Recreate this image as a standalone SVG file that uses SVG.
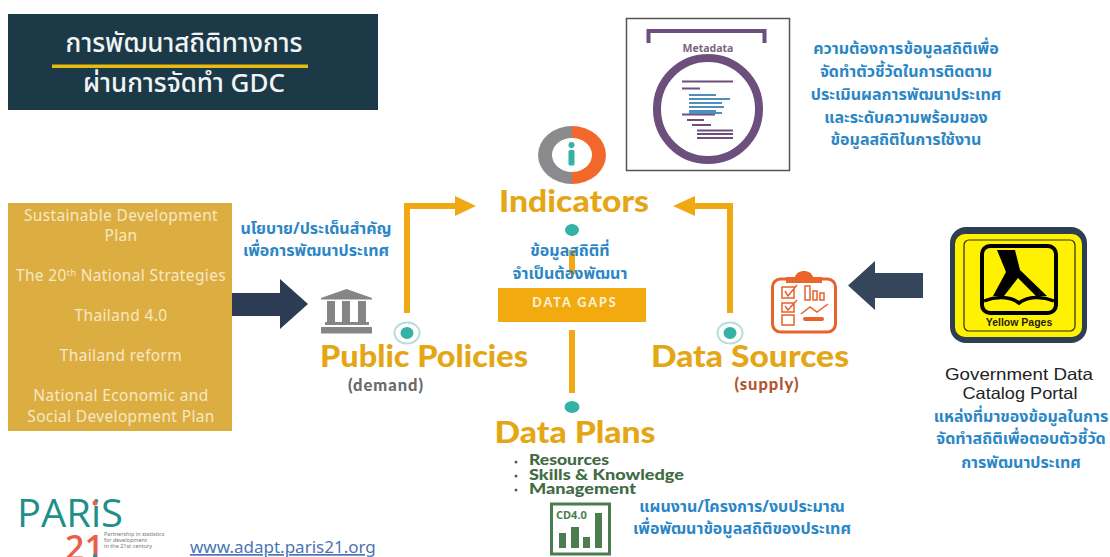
<svg xmlns="http://www.w3.org/2000/svg" width="1110" height="557" viewBox="0 0 1110 557">
<style>
text{font-family:"Noto Sans","Noto Sans Thai","Open Sans","DejaVu Sans",sans-serif}
.m{text-anchor:middle}
.b{fill:#2b86c5;font-size:16px;font-weight:700;text-anchor:middle}
.g{fill:#f6e8c6;font-size:15.500px;text-anchor:middle;letter-spacing:.35px}
.h{fill:#e5a616;font-family:"Lato","Open Sans",sans-serif;font-size:30px;font-weight:900;text-anchor:middle}
.w{fill:#3f6b45;font-family:"Lato",sans-serif;font-size:15.500px;font-weight:900}
.s{font-family:Lato,sans-serif;font-size:16.500px;font-weight:900;letter-spacing:1px;text-anchor:middle}
.l{font-family:"Liberation Sans",sans-serif;font-size:16.500px;fill:#222;text-anchor:middle}
.c{fill:none;stroke:#f0a912;stroke-width:6}
.n1{fill:#fff;stroke:#b6dedb;stroke-width:2}
.n2{fill:#35b1a6}
.p{stroke:#6c4f7c;stroke-width:2;fill:none}
.q{stroke:#4f8fbd;stroke-width:1.800;fill:none}
.o{fill:none;stroke:#e8622a;stroke-width:1.500}
</style>
<rect width="1110" height="557" fill="#fff"/>
<g id="title">
<rect x="8" y="14" width="370" height="96" fill="#1c3947"/>
<rect x="52" y="64.500" width="256" height="3.500" fill="#e9bb11"/>
<text class="m" x="184" y="52" fill="#f1f4f4" font-size="26" font-weight="500">การพัฒนาสถิติทางการ</text>
<text class="m" x="184" y="92" fill="#f1f4f4" font-size="26" font-weight="500">ผ่านการจัดทำ GDC</text>
</g>
<g id="metadata">
<rect x="626.500" y="18.500" width="163" height="152" fill="#fff" stroke="#555" stroke-width="1.500"/>
<path d="M648.500 43V31H764.500V43" fill="none" stroke="#6c4f7c" stroke-width="4"/>
<text class="m" x="708" y="52" fill="#76687f" font-size="10.500" font-weight="700">Metadata</text>
<circle cx="708" cy="109" r="51" fill="#fff" stroke="#6c4f7c" stroke-width="8"/>
<path class="p" d="M682 81.500H733M682 88.500H700M682 114.500H715M687 120H704M692 125H711M697 130.500H733M697 134H733M697 138H733"/>
<path class="q" d="M689 95H716M689 99H730M689 103H722M689 107H724M689 111H716M689 113H722"/>
</g>
<g id="metadata-note">
<text class="b" x="906" y="54">ความต้องการข้อมูลสถิติเพื่อ</text>
<text class="b" x="906" y="77">จัดทำตัวชี้วัดในการติดตาม</text>
<text class="b" x="906" y="100">ประเมินผลการพัฒนาประเทศ</text>
<text class="b" x="906" y="123">และระดับความพร้อมของ</text>
<text class="b" x="906" y="145">ข้อมูลสถิติในการใช้งาน</text>
</g>
<g id="plans-box">
<rect x="8" y="203" width="224" height="228" fill="#dcae41"/>
<text class="g" x="121" y="221">Sustainable Development</text>
<text class="g" x="121" y="241">Plan</text>
<text class="g" x="121" y="281">The 20<tspan dy="-5" font-size="9">th</tspan><tspan dy="5"> National Strategies</tspan></text>
<text class="g" x="121" y="321">Thailand 4.0</text>
<text class="g" x="121" y="361">Thailand reform</text>
<text class="g" x="121" y="401">National Economic and</text>
<text class="g" x="121" y="422">Social Development Plan</text>
</g>
<g id="connectors">
<path d="M232 293H280V279L308 304L280 329V316H232Z" fill="#2b3c54"/>
<path d="M923 273H875V261L848 285.500L875 310V298H923Z" fill="#35455c"/>
<path class="c" d="M407 313V206H456"/>
<path d="M455 196L476 206L455 216Z" fill="#f0a912"/>
<path class="c" d="M730 313V206H695"/>
<path d="M695 196L673 206L695 216Z" fill="#f0a912"/>
<path class="c" d="M572 250V274M572 330V393"/>
</g>
<g id="indicators">
<path d="M572 126A34 29 0 0 0 572 184V172A20 17 0 0 1 572 138Z" fill="#8b8b8e"/>
<path d="M572 126A34 29 0 0 1 572 184V172A20 17 0 0 0 572 138Z" fill="#f1682a"/>
<circle cx="571.500" cy="145" r="3" fill="#35b1a6"/>
<rect x="568.500" y="150" width="6" height="15.500" rx="1.500" fill="#35b1a6"/>
<text class="h" x="574" y="212" textLength="150" lengthAdjust="spacingAndGlyphs">Indicators</text>
<ellipse class="n2" cx="572" cy="230" rx="7" ry="6"/>
</g>
<g id="gap-note">
<text class="b" x="570" y="256">ข้อมูลสถิติที่</text>
<text class="b" x="570" y="279">จำเป็นต้องพัฒนา</text>
</g>
<g id="data-gaps">
<rect x="498" y="288" width="148" height="34" fill="#f2aa0e"/>
<text class="m" x="575" y="307" fill="#fbf0d4" font-size="12.500" font-weight="900" letter-spacing="2" style="font-family:Lato,sans-serif">DATA GAPS</text>
</g>
<g id="policy-note">
<text class="b" x="316" y="234">นโยบาย/ประเด็นสำคัญ</text>
<text class="b" x="316" y="256">เพื่อการพัฒนาประเทศ</text>
</g>
<g id="bank-icon" fill="#858585">
<path d="M321 298L346.500 289L372 298V299.500H321Z"/>
<rect x="327" y="301" width="8" height="21"/><rect x="342" y="301" width="8" height="21"/><rect x="358" y="301" width="8" height="21"/>
<rect x="325" y="322" width="44" height="3"/><rect x="321" y="327" width="51" height="6.500"/>
</g>
<g id="public-policies">
<ellipse class="n1" cx="407" cy="333" rx="12.500" ry="10.500"/>
<ellipse class="n2" cx="407" cy="333" rx="6.500" ry="6"/>
<text class="h" x="424" y="367" textLength="208" lengthAdjust="spacingAndGlyphs">Public Policies</text>
<text class="s" x="386" y="391" fill="#6a6a6a">(demand)</text>
</g>
<g id="data-sources">
<ellipse class="n1" cx="730" cy="333" rx="12.500" ry="10.500"/>
<ellipse class="n2" cx="730" cy="333" rx="6.500" ry="6"/>
<text class="h" x="750" y="367" textLength="198" lengthAdjust="spacingAndGlyphs">Data Sources</text>
<text class="s" x="767" y="390" fill="#b0562f">(supply)</text>
</g>
<g id="clipboard-icon">
<rect x="772.500" y="279" width="63" height="53" rx="8" fill="#fff" stroke="#e8622a" stroke-width="3"/>
<path d="M786 283V277H795C797 269 811 269 813 277H822V283Z" fill="#ea6527"/>
<path class="o" d="M782 287H794V298H782ZM782 303H794V312H782ZM782 315H794V325H782ZM785 291L788 296L797 285M785 306L788 310L797 300M805 286H810V300H805ZM813 291H817V300H813ZM820 293H824V300H820ZM801 314L810 307L817 312L828 304"/>
<rect x="803" y="317" width="21" height="4" rx="2" fill="#e8622a"/>
</g>
<g id="yellow-pages">
<rect x="950" y="227" width="137" height="116" rx="16" fill="#2f3e52"/>
<rect x="955" y="234" width="127" height="103" rx="10" fill="#fff200"/>
<rect x="964" y="240" width="111" height="91" rx="5" fill="none" stroke="#2b2b1a" stroke-width="1.200"/>
<rect x="982" y="246" width="74" height="67" rx="8" fill="#fff200" stroke="#000" stroke-width="4"/>
<path d="M997 250H1015L1020 270L1047 296H1036L1018 278L1004 296H993L1006 272Z" fill="#000"/>
<path d="M984 301C996 296 1010 296 1019 303C1028 296 1042 296 1054 301" fill="none" stroke="#000" stroke-width="3.500"/>
<text class="m" x="1019" y="326" fill="#1c1c10" font-size="10.500" font-weight="700" style="font-family:'Liberation Sans',sans-serif">Yellow Pages</text>
</g>
<g id="portal-label">
<text class="l" x="1019" y="380" textLength="148" lengthAdjust="spacingAndGlyphs">Government Data</text>
<text class="l" x="1020" y="399" textLength="115" lengthAdjust="spacingAndGlyphs">Catalog Portal</text>
<text class="b" x="1021" y="422">แหล่งที่มาของข้อมูลในการ</text>
<text class="b" x="1021" y="444">จัดทำสถิติเพื่อตอบตัวชี้วัด</text>
<text class="b" x="1021" y="468">การพัฒนาประเทศ</text>
</g>
<g id="data-plans">
<ellipse class="n2" cx="572" cy="407" rx="7.500" ry="6"/>
<text class="h" x="575" y="443" textLength="161" lengthAdjust="spacingAndGlyphs">Data Plans</text>
<circle cx="516" cy="462" r="1.500" fill="#3f6b45"/><circle cx="516" cy="476" r="1.500" fill="#3f6b45"/><circle cx="516" cy="490" r="1.500" fill="#3f6b45"/>
<text class="w" x="529" y="465" textLength="80" lengthAdjust="spacingAndGlyphs">Resources</text>
<text class="w" x="529" y="479.500" textLength="155" lengthAdjust="spacingAndGlyphs">Skills &amp; Knowledge</text>
<text class="w" x="529" y="494" textLength="107" lengthAdjust="spacingAndGlyphs">Management</text>
</g>
<g id="cd-icon">
<rect x="551.500" y="504" width="58" height="50" fill="#fff" stroke="#4b7d51" stroke-width="3"/>
<text x="556" y="519" fill="#4b7d51" font-size="11" font-weight="700">CD4.0</text>
<rect x="559" y="533" width="7" height="15" fill="#4b7d51"/><rect x="571" y="527" width="8" height="21" fill="#4b7d51"/><rect x="583" y="537" width="7" height="11" fill="#4b7d51"/><rect x="595" y="513" width="7" height="35" fill="#4b7d51"/>
</g>
<g id="plans-note">
<text class="b" x="742" y="512">แผนงาน/โครงการ/งบประมาณ</text>
<text class="b" x="742" y="534">เพื่อพัฒนาข้อมูลสถิติของประเทศ</text>
</g>
<g id="paris21">
<text x="17" y="527" fill="#1f8f8b" font-size="38" textLength="106" lengthAdjust="spacingAndGlyphs" style="font-family:'Open Sans',sans-serif">PARiS</text>
<circle cx="95" cy="503" r="2.500" fill="#e8604c"/>
<text x="65" y="560" fill="#e8604c" font-size="34" font-weight="600" style="font-family:'Open Sans',sans-serif">21</text>
<circle cx="95" cy="556" r="2" fill="#1f8f8b"/>
<text x="104" y="536" fill="#777" font-size="5.500">Partnership in statistics</text>
<text x="104" y="542" fill="#777" font-size="5.500">for development</text>
<text x="104" y="548" fill="#777" font-size="5.500">in the 21st century</text>
<text x="190" y="553" fill="#4a74b5" font-size="17" text-decoration="underline">www.adapt.paris21.org</text>
</g>
</svg>
